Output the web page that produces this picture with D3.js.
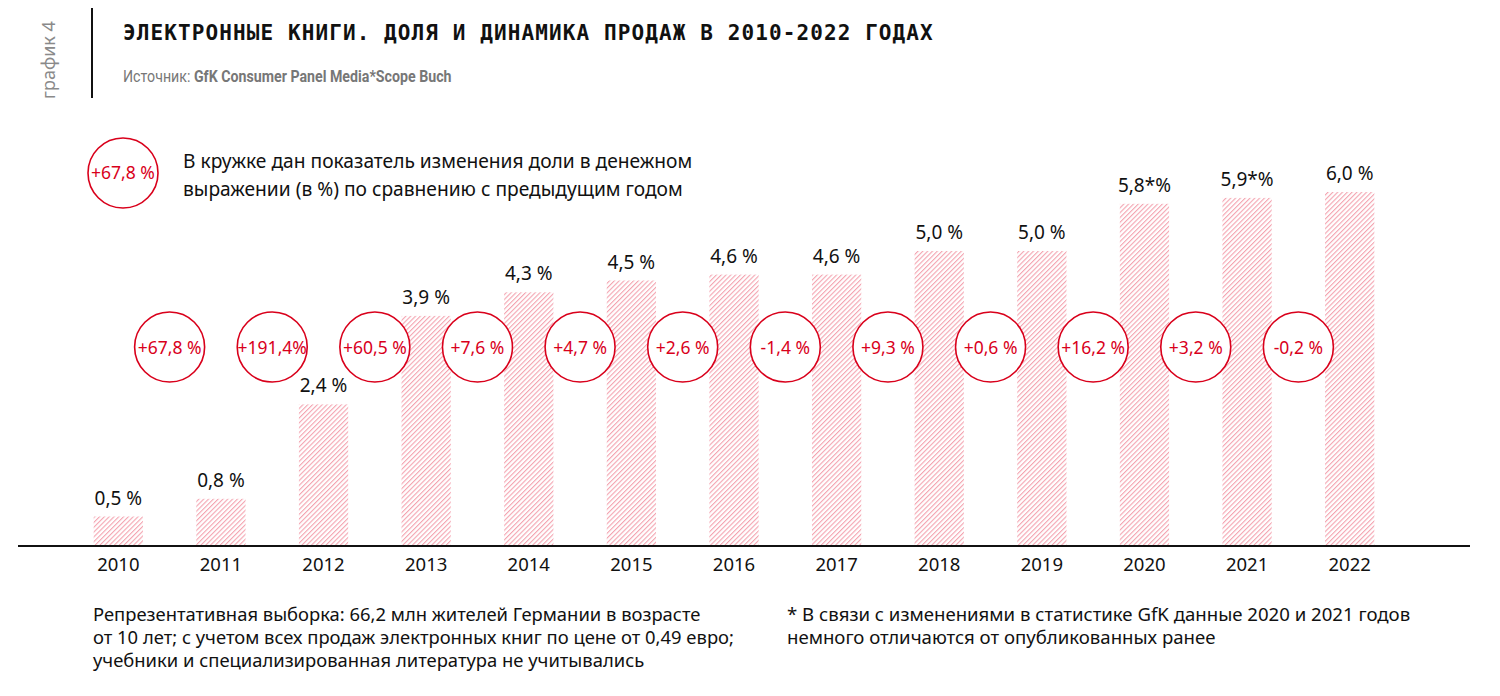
<!DOCTYPE html>
<html><head><meta charset="utf-8">
<script src="https://cdn.jsdelivr.net/npm/d3@7/dist/d3.min.js"></script>
<style>
body{margin:0;background:#fff;}
svg{display:block;}
</style></head>
<body>
<svg id="c" width="1500" height="696"></svg>
<script>
const years = ["2010","2011","2012","2013","2014","2015","2016","2017","2018","2019","2020","2021","2022"];
const shares = [0.5,0.8,2.4,3.9,4.3,4.5,4.6,4.6,5.0,5.0,5.8,5.9,6.0];
const shareLabels = ["0,5 %","0,8 %","2,4 %","3,9 %","4,3 %","4,5 %","4,6 %","4,6 %","5,0 %","5,0 %","5,8*%","5,9*%","6,0 %"];
const changeLabels = ["+67,8 %","+191,4%","+60,5 %","+7,6 %","+4,7 %","+2,6 %","-1,4 %","+9,3 %","+0,6 %","+16,2 %","+3,2 %","-0,2 %"];

const svg = d3.select("#c");
const red = "#d9001b";
const bodyFont = "'Noto Sans', sans-serif";
const narrowFont = "'Roboto', sans-serif";

const defs = svg.append("defs");
const pat = defs.append("pattern").attr("id","hatch").attr("patternUnits","userSpaceOnUse")
  .attr("width",3.4).attr("height",3.4).attr("patternTransform","rotate(45)");
pat.append("rect").attr("width",3.4).attr("height",3.4).attr("fill","#fff");
pat.append("line").attr("x1",0).attr("y1",0).attr("x2",0).attr("y2",3.4)
  .attr("stroke","#f4a3b0").attr("stroke-width",2.2);

const baseY = 546;
const x = d3.scaleBand().domain(years).range([67, 1401]).paddingInner(0.52).paddingOuter(0.26);
const y = d3.scaleLinear().domain([0, 6]).range([baseY, 192]);

// header
svg.append("text").attr("transform","translate(55,60) rotate(-90)")
  .attr("text-anchor","middle").attr("font-family",bodyFont).attr("font-size",18)
  .attr("fill","#8a8a8a").text("график 4");
svg.append("line").attr("x1",92).attr("x2",92).attr("y1",8).attr("y2",98)
  .attr("stroke","#111").attr("stroke-width",2);
svg.append("text").attr("x",123).attr("y",40).attr("font-family","'DejaVu Sans Mono', monospace")
  .attr("font-weight","bold").attr("font-size",21).attr("letter-spacing",1.1).attr("fill","#111")
  .text("ЭЛЕКТРОННЫЕ КНИГИ. ДОЛЯ И ДИНАМИКА ПРОДАЖ В 2010-2022 ГОДАХ");
const src = svg.append("text").attr("transform","translate(123,82) scale(0.835,1)")
  .attr("font-family",narrowFont).attr("font-size",17).attr("fill","#777");
src.append("tspan").text("Источник: ");
src.append("tspan").attr("font-weight","bold").text("GfK Consumer Panel Media*Scope Buch");

// legend
svg.append("circle").attr("cx",123).attr("cy",173).attr("r",35).attr("fill","#fff")
  .attr("stroke",red).attr("stroke-width",1.6);
svg.append("text").attr("x",123).attr("y",179).attr("text-anchor","middle")
  .attr("font-family",bodyFont).attr("font-size",17.5).attr("fill",red).text(changeLabels[0]);
const lg = svg.append("text").attr("font-family",bodyFont).attr("font-size",19.2).attr("fill","#111");
lg.append("tspan").attr("x",183).attr("y",168).text("В кружке дан показатель изменения доли в денежном");
lg.append("tspan").attr("x",183).attr("y",196).text("выражении (в %) по сравнению с предыдущим годом");

// bars
svg.append("g").selectAll("rect").data(shares).join("rect")
  .attr("x",(d,i)=>x(years[i])).attr("width",x.bandwidth())
  .attr("y",d=>y(d)).attr("height",d=>baseY-y(d)).attr("fill","url(#hatch)");

svg.append("g").selectAll("text").data(shares).join("text")
  .attr("x",(d,i)=>x(years[i])+x.bandwidth()/2).attr("y",d=>y(d)-12)
  .attr("text-anchor","middle").attr("font-family",bodyFont).attr("font-size",19).attr("fill","#111")
  .text((d,i)=>shareLabels[i]);

// axis
const axis = svg.append("g").attr("transform",`translate(0,${baseY})`)
  .call(d3.axisBottom(x).tickSize(0).tickPadding(12));
axis.select(".domain").remove();
axis.selectAll("text").attr("font-family",bodyFont).attr("font-size",18.5).attr("fill","#111");
svg.append("line").attr("x1",18).attr("x2",1470).attr("y1",baseY).attr("y2",baseY)
  .attr("stroke","#111").attr("stroke-width",2);

// change circles between bars
const cx = i => (x(years[i]) + x(years[i+1]))/2 + x.bandwidth()/2;
const cg = svg.append("g").selectAll("g").data(changeLabels).join("g")
  .attr("transform",(d,i)=>`translate(${cx(i)},347)`);
cg.append("circle").attr("r",35).attr("fill","#fff").attr("stroke",red).attr("stroke-width",1.6);
cg.append("text").attr("y",6.5).attr("text-anchor","middle").attr("font-family",bodyFont)
  .attr("font-size",17.5).attr("fill",red).text(d=>d);

// footnotes
const f1 = svg.append("text").attr("font-family",bodyFont).attr("font-size",18.4).attr("fill","#111");
["Репрезентативная выборка: 66,2 млн жителей Германии в возрасте",
 "от 10 лет; с учетом всех продаж электронных книг по цене от 0,49 евро;",
 "учебники и специализированная литература не учитывались"].forEach((t,i)=>
  f1.append("tspan").attr("x",93).attr("y",621+i*23).text(t));
const f2 = svg.append("text").attr("font-family",bodyFont).attr("font-size",18.6).attr("fill","#111");
["* В связи с изменениями в статистике GfK данные 2020 и 2021 годов",
 "немного отличаются от опубликованных ранее"].forEach((t,i)=>
  f2.append("tspan").attr("x",787).attr("y",621+i*23).text(t));
</script>
</body></html>
